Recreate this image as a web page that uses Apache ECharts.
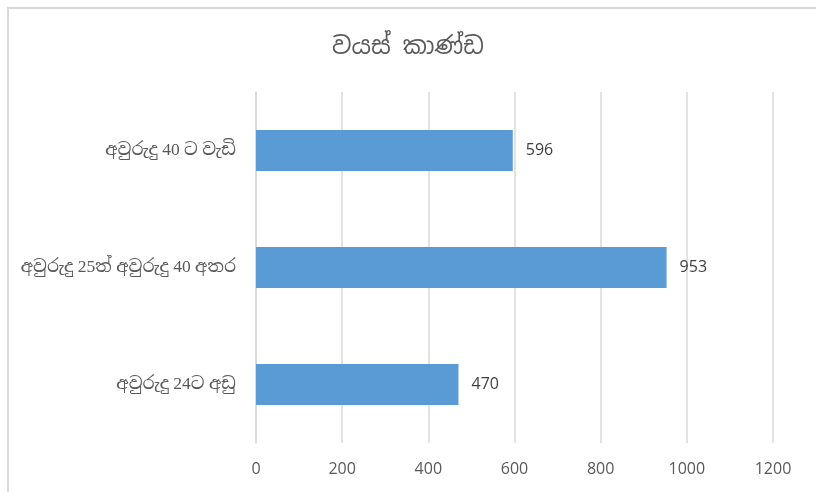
<!DOCTYPE html>
<html>
<head>
<meta charset="utf-8">
<script src="https://cdn.jsdelivr.net/npm/echarts@6/dist/echarts.min.js"></script>
<style>html,body{margin:0;padding:0;background:#fff;}#c{width:816px;height:492px;}</style>
</head>
<body>
<div id="c"></div>
<script>
const titleText = 'වයස් කාණ්ඩ';
const categories = ['අවුරුදු 24ට අඩු', 'අවුරුදු 25ත් අවුරුදු 40 අතර', 'අවුරුදු 40 ට වැඩි'];
const values = [470, 953, 596];
const xTicks = [0, 200, 400, 600, 800, 1000, 1200];

const titleFont = '"Noto Sans Sinhala","Iskoola Pota",sans-serif';
const catFont = '"Liberation Serif","Iskoola Pota","Noto Serif Sinhala","Noto Sans Sinhala",serif';
const numFont = '"Open Sans",Lato,sans-serif';
const chart = echarts.init(document.getElementById('c'));
chart.setOption({
  animation: false,
  graphic: [{
    type: 'rect', shape: {x: 8, y: 8, width: 900, height: 600},
    style: {fill: 'none', stroke: '#d9d9d9', lineWidth: 2}, silent: true
  }],
  title: {
    text: titleText, left: 'center', top: 30,
    textStyle: {fontFamily: titleFont, fontSize: 24, fontWeight: 'normal', color: '#595959'}
  },
  grid: {left: 256, right: 43, top: 92, bottom: 49, containLabel: false},
  xAxis: {
    type: 'value', min: xTicks[0], max: xTicks[xTicks.length - 1], interval: 200,
    axisLine: {show: false}, axisTick: {show: false},
    splitLine: {lineStyle: {color: '#d9d9d9', width: 1.5}},
    axisLabel: {color: '#595959', fontSize: 16, fontFamily: numFont, margin: 18,
      formatter: function (v) { return String(v); }}
  },
  yAxis: {
    type: 'category', data: categories,
    axisLine: {lineStyle: {color: '#d9d9d9', width: 1.5}}, axisTick: {show: false},
    axisLabel: {color: '#595959', fontSize: 17.5, fontFamily: catFont, margin: 20}
  },
  series: [{
    type: 'bar', data: values, barWidth: '35%',
    itemStyle: {color: '#5b9bd5'},
    label: {show: true, position: 'right', distance: 13, color: '#404040', fontSize: 16, fontFamily: numFont}
  }]
});
</script>
</body>
</html>
